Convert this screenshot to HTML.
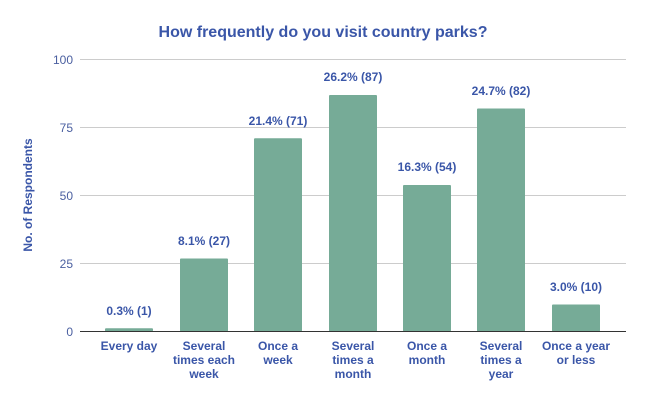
<!DOCTYPE html>
<html><head><style>
body{margin:0;background:#fff;}
svg{display:block;font-family:"Liberation Sans",Arial,sans-serif;}
</style></head><body>
<svg width="646" height="400" viewBox="0 0 646 400">
<rect width="646" height="400" fill="#fff"/>
<text x="323" y="37" text-anchor="middle" font-size="16" font-weight="bold" fill="#3a56a8">How frequently do you visit country parks?</text>
<g stroke="#cccccc" stroke-width="1">
<line x1="80" x2="626" y1="59.5" y2="59.5"/>
<line x1="80" x2="626" y1="127.5" y2="127.5"/>
<line x1="80" x2="626" y1="195.5" y2="195.5"/>
<line x1="80" x2="626" y1="263.5" y2="263.5"/>
</g>
<g font-size="12" fill="#4a5fa0" text-anchor="end">
<text x="73" y="64">100</text>
<text x="73" y="132">75</text>
<text x="73" y="200">50</text>
<text x="73" y="268">25</text>
<text x="73" y="336">0</text>
</g>
<text transform="translate(32,195) rotate(-90)" text-anchor="middle" font-size="12" font-weight="bold" fill="#3a56a8">No. of Respondents</text>
<g fill="#76ab97">
<rect x="105" y="328.3" width="48" height="3.2" rx="1"/>
<rect x="180" y="258.5" width="48" height="73" rx="1"/>
<rect x="254" y="138.3" width="48" height="193.2" rx="1"/>
<rect x="329" y="95" width="48" height="236.5" rx="1"/>
<rect x="403" y="185" width="48" height="146.5" rx="1"/>
<rect x="477" y="108.5" width="48" height="223" rx="1"/>
<rect x="552" y="304.5" width="48" height="27" rx="1"/>
</g>
<line x1="80" x2="626" y1="331.5" y2="331.5" stroke="#333" stroke-width="1"/>
<g font-size="12" font-weight="bold" fill="#3a56a8" text-anchor="middle">
<text x="129" y="315">0.3% (1)</text>
<text x="204" y="245">8.1% (27)</text>
<text x="278" y="125">21.4% (71)</text>
<text x="353" y="81">26.2% (87)</text>
<text x="427" y="171">16.3% (54)</text>
<text x="501" y="95">24.7% (82)</text>
<text x="576" y="291">3.0% (10)</text>
<text x="129" y="350">Every day</text>
<text x="204" y="350">Several</text><text x="204" y="364">times each</text><text x="204" y="378">week</text>
<text x="278" y="350">Once a</text><text x="278" y="364">week</text>
<text x="353" y="350">Several</text><text x="353" y="364">times a</text><text x="353" y="378">month</text>
<text x="427" y="350">Once a</text><text x="427" y="364">month</text>
<text x="501" y="350">Several</text><text x="501" y="364">times a</text><text x="501" y="378">year</text>
<text x="576" y="350">Once a year</text><text x="576" y="364">or less</text>
</g>
</svg>
</body></html>
